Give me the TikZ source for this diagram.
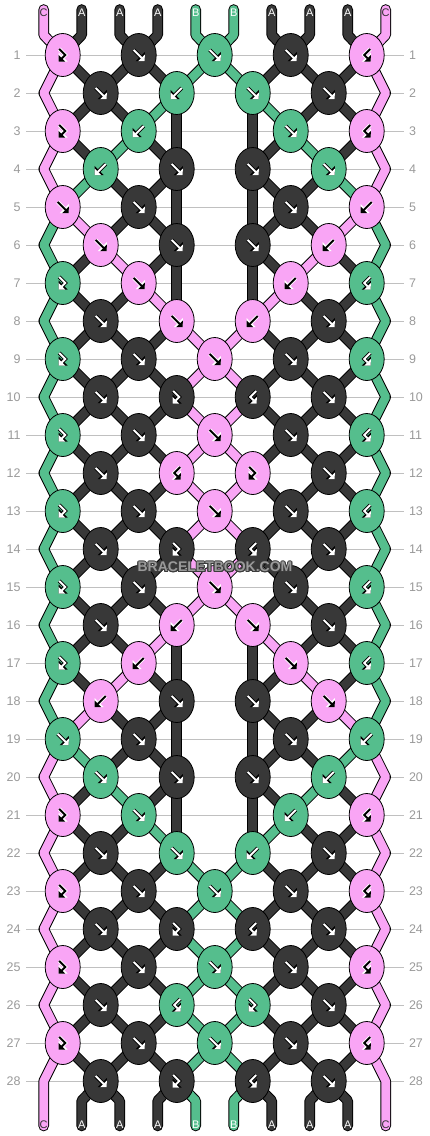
\documentclass[tikz,border=0pt]{standalone}
\usepackage{fontspec}
\setmainfont{Liberation Sans}
\usepackage[copies]{contour}
\usetikzlibrary{shapes.geometric,arrows.meta}

\definecolor{cP}{HTML}{F9A5F5}
\definecolor{cK}{HTML}{383838}
\definecolor{cG}{HTML}{55BE8D}
\definecolor{gridgray}{HTML}{C0C0C0}
\definecolor{numgray}{HTML}{999999}
\definecolor{markfill}{HTML}{9A9A9A}
\definecolor{markline}{HTML}{3C3C3C}
\contourlength{0.9pt}

\pgfdeclarelayer{back}
\pgfdeclarelayer{mid}
\pgfsetlayers{back,mid,main}

% \patrow{row}{col/knot/colour, ...}{thread colours below the row}
\newcommand\patrow[3]{%
  \expandafter\def\csname kn#1\endcsname{#2}%
  \expandafter\def\csname st#1\endcsname{#3}}
% rows with no knot in the middle
\newcommand\nomid[1]{\expandafter\def\csname miss#1\endcsname{}}

\patrow{0}{}{P,K,K,K,G,G,K,K,K,P}
\patrow{1}{0/FB/P,1/F/K,2/F/G,3/F/K,4/BF/P}{P,K,K,K,G,G,K,K,K,P}
\patrow{2}{0/F/K,1/B/G,2/F/G,3/F/K}{P,K,K,G,K,K,G,K,K,P}
\patrow{3}{0/FB/P,1/B/G,3/F/G,4/BF/P}{P,K,G,K,K,K,K,G,K,P}
\patrow{4}{0/B/G,1/F/K,2/F/K,3/F/G}{P,G,K,K,K,K,K,K,G,P}
\patrow{5}{0/F/P,1/F/K,3/F/K,4/B/P}{G,P,K,K,K,K,K,K,P,G}
\patrow{6}{0/F/P,1/F/K,2/F/K,3/B/P}{G,K,P,K,K,K,K,P,K,G}
\patrow{7}{0/FB/G,1/F/P,3/B/P,4/BF/G}{G,K,K,P,K,K,P,K,K,G}
\patrow{8}{0/F/K,1/F/P,2/B/P,3/F/K}{G,K,K,K,P,P,K,K,K,G}
\patrow{9}{0/FB/G,1/F/K,2/F/P,3/F/K,4/BF/G}{G,K,K,K,P,P,K,K,K,G}
\patrow{10}{0/F/K,1/FB/K,2/BF/K,3/F/K}{G,K,K,K,P,P,K,K,K,G}
\patrow{11}{0/FB/G,1/F/K,2/F/P,3/F/K,4/BF/G}{G,K,K,K,P,P,K,K,K,G}
\patrow{12}{0/F/K,1/BF/P,2/FB/P,3/F/K}{G,K,K,K,P,P,K,K,K,G}
\patrow{13}{0/FB/G,1/F/K,2/F/P,3/F/K,4/BF/G}{G,K,K,K,P,P,K,K,K,G}
\patrow{14}{0/F/K,1/FB/K,2/BF/K,3/F/K}{G,K,K,K,P,P,K,K,K,G}
\patrow{15}{0/FB/G,1/F/K,2/F/P,3/F/K,4/BF/G}{G,K,K,K,P,P,K,K,K,G}
\patrow{16}{0/F/K,1/B/P,2/F/P,3/F/K}{G,K,K,P,K,K,P,K,K,G}
\patrow{17}{0/FB/G,1/B/P,3/F/P,4/BF/G}{G,K,P,K,K,K,K,P,K,G}
\patrow{18}{0/B/P,1/F/K,2/F/K,3/F/P}{G,P,K,K,K,K,K,K,P,G}
\patrow{19}{0/F/G,1/F/K,3/F/K,4/B/G}{P,G,K,K,K,K,K,K,G,P}
\patrow{20}{0/F/G,1/F/K,2/F/K,3/B/G}{P,K,G,K,K,K,K,G,K,P}
\patrow{21}{0/FB/P,1/F/G,3/B/G,4/BF/P}{P,K,K,G,K,K,G,K,K,P}
\patrow{22}{0/F/K,1/F/G,2/B/G,3/F/K}{P,K,K,K,G,G,K,K,K,P}
\patrow{23}{0/FB/P,1/F/K,2/F/G,3/F/K,4/BF/P}{P,K,K,K,G,G,K,K,K,P}
\patrow{24}{0/F/K,1/FB/K,2/BF/K,3/F/K}{P,K,K,K,G,G,K,K,K,P}
\patrow{25}{0/FB/P,1/F/K,2/F/G,3/F/K,4/BF/P}{P,K,K,K,G,G,K,K,K,P}
\patrow{26}{0/F/K,1/BF/G,2/FB/G,3/F/K}{P,K,K,K,G,G,K,K,K,P}
\patrow{27}{0/FB/P,1/F/K,2/F/G,3/F/K,4/BF/P}{P,K,K,K,G,G,K,K,K,P}
\patrow{28}{0/F/K,1/FB/K,2/BF/K,3/F/K}{P,K,K,K,G,G,K,K,K,P}
\nomid{3}\nomid{5}\nomid{7}\nomid{17}\nomid{19}\nomid{21}

\begin{document}
\begin{tikzpicture}[x=1pt, y=-1pt,
  knot/.style={ellipse, draw=black, line width=0.8pt, inner sep=0pt,
    minimum width=35pt, minimum height=43pt},
  thread/.style={draw=#1, line width=8.6pt, line cap=round, line join=round,
    preaction={draw=black, line width=10.6pt, line cap=round, line join=round}},
  glyph/.style={line width=2pt, line cap=butt, line join=miter,
    -{Triangle[length=4.5pt,width=9pt]}},
  halo/.style={line width=3.8pt, line cap=butt, line join=miter,
    -{Triangle[length=6.3pt,width=12.5pt]}},
  gP/.style={draw=black}, hP/.style={draw=white},
  gK/.style={draw=white}, hK/.style={draw=black},
  gG/.style={draw=white}, hG/.style={draw=black},
  tF/.style={insert path={(-5,-5) -- (6,6)}},
  tB/.style={insert path={(5,-5) -- (-6,6)}},
  tFB/.style={insert path={(-3.5,-6) -- (2.5,0) -- (-4,6.5)}},
  tBF/.style={insert path={(3.5,-6) -- (-2.5,0) -- (4,6.5)}},
  rownum/.style={text=numgray, font=\fontsize{12.5}{12.5}\selectfont,
    inner sep=0pt, outer sep=0pt},
  rowline/.style={draw=gridgray, line width=1pt, shorten <=5.5pt, shorten >=5pt},
  strlbl/.style={font=\fontsize{11}{11}\selectfont, inner sep=0pt},
  lC/.style={text=black!80}, lA/.style={text=white}, lB/.style={text=white}]
\useasboundingbox (0,0) rectangle (430,1136);

% thread ends and edge turns
\foreach \i in {0,...,9} {
  \coordinate (tt-\i) at (43.7+38*\i, 9.5);
  \coordinate (tb-\i) at (43.7+38*\i, 35);
  \coordinate (bb-\i) at (43.7+38*\i, 1100.7);
  \coordinate (bt-\i) at (43.7+38*\i, 1126);
}
\foreach \r in {2,4,...,28} {
  \coordinate (e-\r-0) at (43.7, 55+38*\r-38);
  \coordinate (e-\r-9) at (385.7, 55+38*\r-38);
}

% knots
\foreach \r in {1,...,28} {
  \pgfmathsetmacro\y{55+38*(\r-1)}
  \pgfmathsetmacro\xo{isodd(\r) ? 62.7 : 100.7}
  \edef\kl{\csname kn\r\endcsname}
  \foreach \c/\t/\col in \kl {
    \node[knot, fill=c\col] (k-\r-\c) at (\xo+76*\c, \y) {};
    \draw[halo, h\col, shift={(k-\r-\c.center)}, t\t];
    \draw[glyph, g\col, shift={(k-\r-\c.center)}, t\t];
  }
}

% threads between the knots
\begin{pgfonlayer}{mid}
\foreach \r in {0,...,28} {
  \pgfmathtruncatemacro\s{\r+1}
  \pgfmathtruncatemacro\ss{\r+2}
  \edef\stl{\csname st\r\endcsname}
  \foreach \col [count=\i from 0] in \stl {
    \pgfmathtruncatemacro\ho{\i/2}
    \pgfmathtruncatemacro\he{(\i-1)/2}
    \pgfmathtruncatemacro\isedge{(\i==0)||(\i==9)}
    \pgfmathtruncatemacro\iscore{(\i==4)||(\i==5)}
    \gdef\tp{}%
    \ifnum\r=0
      \xdef\tp{(tt-\i) -- (tb-\i) -- (k-1-\ho.center)}%
    \else
      \ifodd\r
        \ifnum\iscore\ifcsname miss\r\endcsname 1\else 0\fi=11
        \else
          \ifnum\isedge=1
            \ifnum\r=27
              \xdef\tp{(k-\r-\ho.center) -- (e-28-\i) -- (bt-\i)}%
            \else
              \xdef\tp{(k-\r-\ho.center) -- (e-\s-\i) -- (k-\ss-\ho.center)}%
            \fi
          \else
            \xdef\tp{(k-\r-\ho.center) -- (k-\s-\he.center)}%
          \fi
        \fi
      \else
        \ifnum\isedge=0
          \ifnum\r=28
            \xdef\tp{(k-28-\he.center) -- (bb-\i) -- (bt-\i)}%
          \else
            \ifnum\iscore\ifcsname miss\s\endcsname 1\else 0\fi=11
              \xdef\tp{(k-\r-\he.center) -- (k-\ss-\he.center)}%
            \else
              \xdef\tp{(k-\r-\he.center) -- (k-\s-\ho.center)}%
            \fi
          \fi
        \fi
      \fi
    \fi
    \ifx\tp\empty\else \draw[thread=c\col] \tp; \fi
  }
}
\end{pgfonlayer}

% thread names
\foreach \i/\lab in {0/C,1/A,2/A,3/A,4/B,5/B,6/A,7/A,8/A,9/C} {
  \node[strlbl, l\lab] (lt-\i) at (43.7+38*\i, 12.5) {\lab};
  \node[strlbl, l\lab] (lb-\i) at (43.7+38*\i, 1124.3) {\lab};
}

% row numbers and rules
\begin{pgfonlayer}{back}
\foreach \r in {1,...,28} {
  \node[rownum, anchor=east] (nl-\r) at (20.5, 55+38*\r-38) {\r};
  \node[rownum, anchor=west] (nr-\r) at (409, 55+38*\r-38) {\r};
  \draw[rowline] (nl-\r.east) -- (nr-\r.west);
}
\end{pgfonlayer}

\node[text=markfill, font=\bfseries\fontsize{14}{14}\selectfont] (mark) at (215,567.5)
  {\contour{markline}{BRACELETBOOK.COM}};
\end{tikzpicture}
\end{document}
